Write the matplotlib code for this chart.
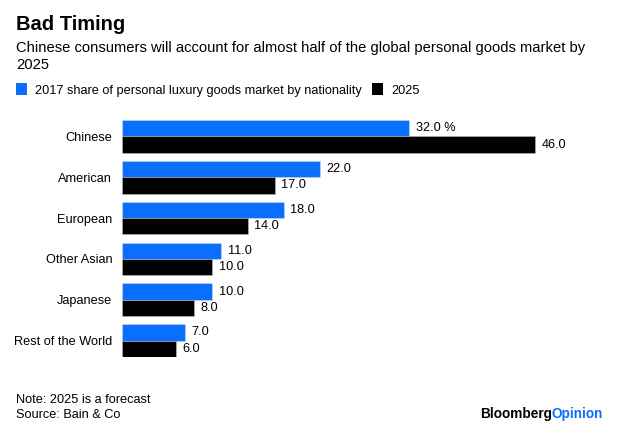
import matplotlib.pyplot as plt
from matplotlib.patches import Patch

plt.rcParams['font.family'] = ['Liberation Sans', 'DejaVu Sans']

# datos
categorias = ['Chinese', 'American', 'European', 'Other Asian', 'Japanese', 'Rest of the World']
share_2017 = [32.0, 22.0, 18.0, 11.0, 10.0, 7.0]
share_2025 = [46.0, 17.0, 14.0, 10.0, 8.0, 6.0]
serie_2017 = '2017 share of personal luxury goods market by nationality'
serie_2025 = '2025'

azul = '#0a6fff'
negro = '#000000'

W, H = 640, 429
fig = plt.figure(figsize=(W / 100, H / 100), dpi=100)

def fx(px):
    return px / W

def fy(py):
    return 1 - py / H

# cabecera
fig.text(fx(16), fy(25), 'Bad Timing', fontsize=14.5, fontweight='bold', va='center', ha='left')
fig.text(fx(16), fy(48), 'Chinese consumers will account for almost half of the global personal goods market by',
         fontsize=10.6, va='center', ha='left')
fig.text(fx(16), fy(65), '2025', fontsize=10.6, va='center', ha='left')

# ejes
ax = fig.add_axes([fx(122), fy(357), fx(571 - 122), (357 - 120) / H])
y = list(range(len(categorias)))
h = 0.4
ax.barh([v - h / 2 for v in y], share_2017, height=h, color=azul, edgecolor='#cfd8e6', linewidth=0.4)
ax.barh([v + h / 2 for v in y], share_2025, height=h, color=negro, edgecolor='#bbbbbb', linewidth=0.4)
ax.set_xlim(0, 50)
ax.set_ylim(5.4, -0.4)
ax.set_yticks(y)
ax.set_yticklabels(categorias, fontsize=9.2)
ax.tick_params(axis='y', length=0, pad=7)
ax.set_xticks([])
for s in ax.spines.values():
    s.set_visible(False)

for i, (a, b) in enumerate(zip(share_2017, share_2025)):
    etiqueta = f'{a:.1f} %' if i == 0 else f'{a:.1f}'
    ax.text(a + 0.75, i - h / 2, etiqueta, va='center', ha='left', fontsize=9.2)
    ax.text(b + 0.75, i + h / 2, f'{b:.1f}', va='center', ha='left', fontsize=9.2)

# leyenda
handles = [Patch(facecolor=azul, label=serie_2017), Patch(facecolor=negro, label=serie_2025)]
fig.legend(handles=handles, loc='center left', bbox_to_anchor=(fx(16), fy(90)), ncol=2, frameon=False,
           fontsize=9.2, handlelength=0.85, handleheight=1.0, handletextpad=0.65, columnspacing=0.8,
           borderaxespad=0, borderpad=0)

# notas
fig.text(fx(16), fy(400), 'Note: 2025 is a forecast', fontsize=9.2, va='center', ha='left')
fig.text(fx(16), fy(415), 'Source: Bain & Co', fontsize=9.2, va='center', ha='left')

# logo
t2 = fig.text(fx(603), fy(414), 'Opinion', fontsize=9.8, fontweight='bold', color=azul, va='center', ha='right')
fig.canvas.draw()
bb = t2.get_window_extent()
fig.text(bb.x0 / W, fy(414), 'Bloomberg', fontsize=9.8, fontweight='bold', color=negro, va='center', ha='right')

fig.savefig('out.png', dpi=100)
